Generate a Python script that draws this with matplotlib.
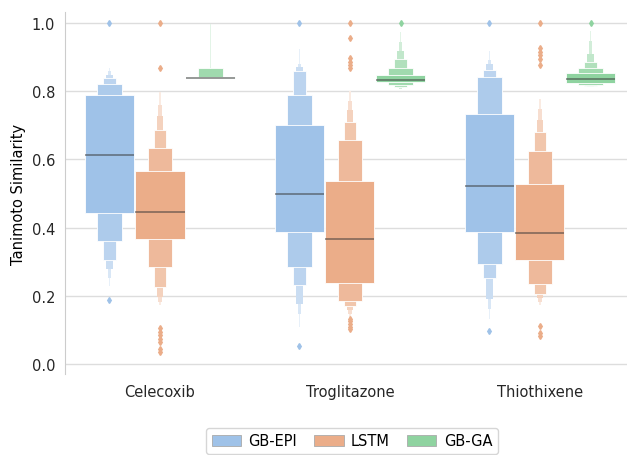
import numpy as np
import matplotlib
matplotlib.use("Agg")
import matplotlib.pyplot as plt
from matplotlib.patches import Patch
from matplotlib.colors import to_rgb

# categories and methods
categories = ["Celecoxib", "Troglitazone", "Thiothixene"]
methods = ["GB-EPI", "LSTM", "GB-GA"]

# letter-value box edges (innermost level first)
epi_lower = [[0.444, 0.361, 0.305, 0.279, 0.253, 0.230],
             [0.386, 0.284, 0.232, 0.176, 0.147, 0.108],
             [0.388, 0.294, 0.253, 0.191, 0.161, 0.132]]
epi_upper = [[0.789, 0.820, 0.839, 0.848, 0.858, 0.867],
             [0.702, 0.788, 0.859, 0.870, 0.880, 0.924],
             [0.733, 0.842, 0.863, 0.880, 0.891, 0.919]]
epi_median = [0.612, 0.500, 0.523]
epi_outliers = [[1.0, 0.188], [1.0, 0.054], [1.0, 0.098]]

lstm_lower = [[0.367, 0.284, 0.227, 0.197, 0.181, 0.174],
              [0.238, 0.186, 0.169, 0.159, 0.147, 0.137],
              [0.304, 0.234, 0.206, 0.194, 0.181, 0.174]]
lstm_upper = [[0.566, 0.633, 0.685, 0.726, 0.758, 0.797],
              [0.536, 0.656, 0.709, 0.744, 0.772, 0.799],
              [0.527, 0.626, 0.680, 0.716, 0.748, 0.777]]
lstm_median = [0.447, 0.367, 0.383]
lstm_outliers = [[1.0, 0.867, 0.105, 0.095, 0.085, 0.075, 0.065, 0.045, 0.035],
                 [1.0, 0.955, 0.896, 0.886, 0.876, 0.867, 0.132, 0.125, 0.118, 0.110, 0.103],
                 [1.0, 0.926, 0.915, 0.905, 0.895, 0.876, 0.112, 0.090, 0.083]]

ga_lower = [[0.840, 0.840, 0.840, 0.840, 0.840, 0.840],
            [0.826, 0.818, 0.812, 0.809, 0.807, 0.806],
            [0.824, 0.818, 0.815, 0.813, 0.812, 0.811]]
ga_upper = [[0.841, 0.867, 0.867, 0.867, 0.867, 0.997],
            [0.848, 0.867, 0.894, 0.918, 0.945, 0.973],
            [0.853, 0.867, 0.885, 0.909, 0.948, 0.975]]
ga_median = [0.840, 0.833, 0.836]
ga_outliers = [[], [1.0], [1.0]]

colors = ["#9fc2e8", "#ebad89", "#8fd3a0"]

lowers = [epi_lower, lstm_lower, ga_lower]
uppers = [epi_upper, lstm_upper, ga_upper]
medians = [epi_median, lstm_median, ga_median]
outliers = [epi_outliers, lstm_outliers, ga_outliers]

plt.rcParams["font.family"] = "DejaVu Sans"
plt.rcParams["font.size"] = 10.5

fig = plt.figure(figsize=(6.27, 4.56), dpi=100)
ax = fig.add_axes([65 / 627, 81 / 456, 562 / 627, 362 / 456])

full_w = 0.258
offset = 0.266

for m in range(3):
    base = np.array(to_rgb(colors[m]))
    for c in range(3):
        x = c + (m - 1) * offset
        lo = lowers[m][c]
        hi = uppers[m][c]
        n = len(lo)
        # outer (thin, light) levels first, inner ones on top
        for i in reversed(range(n)):
            f = 0.75 * i / (n - 1)
            col = base * (1 - f) + f
            w = full_w * 0.5 ** i
            lw = 0.6 if i < 3 else 0
            ax.bar(x, hi[i] - lo[i], bottom=lo[i], width=w, color=col,
                   edgecolor="white", linewidth=lw, zorder=2)
        ax.plot([x - full_w / 2, x + full_w / 2], [medians[m][c]] * 2,
                color="#3a3a3a", alpha=0.55, lw=1.3, zorder=3,
                solid_capstyle="butt")
        pts = outliers[m][c]
        if pts:
            ax.plot([x] * len(pts), pts, "d", color=colors[m], ms=3,
                    mec=colors[m], zorder=3)

ax.set_xlim(-0.5, 2.458)
ax.set_ylim(-0.029, 1.032)
ax.set_xticks(range(3))
ax.set_xticklabels(categories)
ax.set_yticks(np.arange(0, 1.01, 0.2))
ax.set_yticklabels([f"{v:.1f}" for v in np.arange(0, 1.01, 0.2)])
ax.set_ylabel("Tanimoto Similarity", labelpad=4)
ax.tick_params(length=0, colors="#262626", pad=7)
ax.yaxis.grid(True, color="#dddddd", lw=1)
ax.set_axisbelow(True)
for s in ["top", "right", "bottom"]:
    ax.spines[s].set_visible(False)
ax.spines["left"].set_color("#cccccc")

handles = [Patch(facecolor=colors[m], edgecolor="#aaaaaa", linewidth=0.6,
                 label=methods[m]) for m in range(3)]
leg = fig.legend(handles=handles, loc="center", ncol=3,
                 bbox_to_anchor=(352 / 627, 1 - 442 / 456),
                 frameon=True, edgecolor="#cccccc", columnspacing=1.2,
                 handletextpad=0.5)

fig.savefig("out.png", dpi=100)
